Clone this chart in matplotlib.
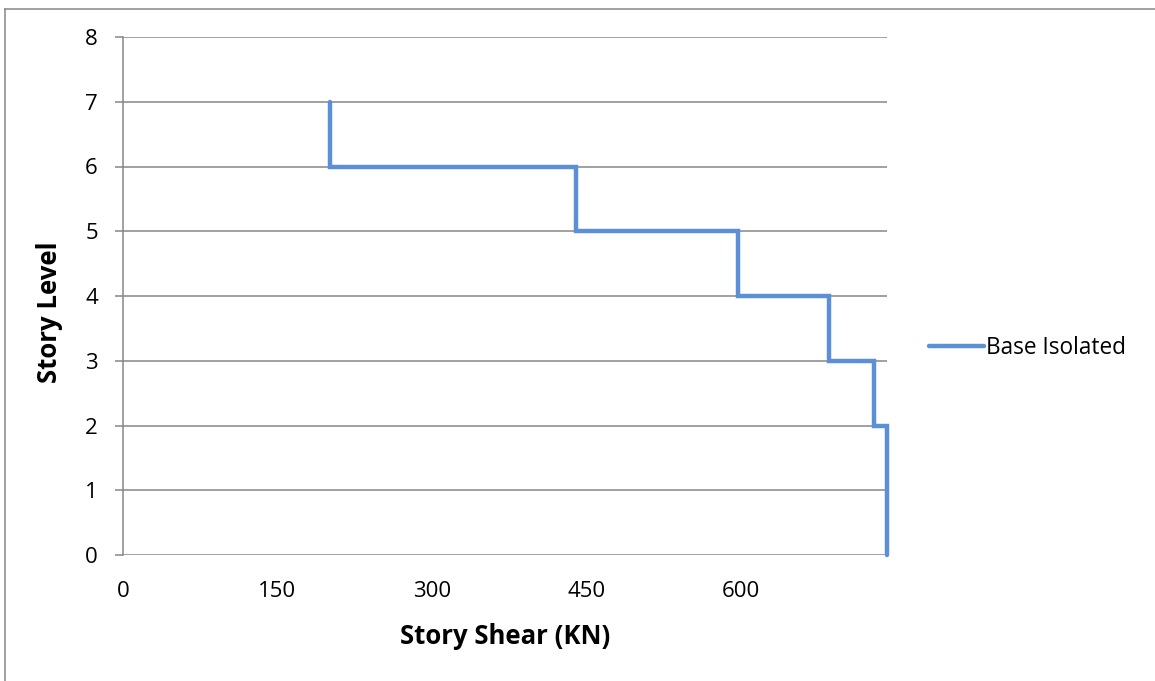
import matplotlib
matplotlib.use("Agg")
import matplotlib.pyplot as plt
from matplotlib.lines import Line2D

# Story shear profile (step line, one horizontal run per story)
story_shear = [742, 742, 729, 729, 686, 686, 597, 597, 440, 440, 201, 201]
story_level = [0, 2, 2, 3, 3, 4, 4, 5, 5, 6, 6, 7]
x_ticks = [0, 150, 300, 450, 600]
y_ticks = [0, 1, 2, 3, 4, 5, 6, 7, 8]
series_name = "Base Isolated"

FONT = ["Open Sans", "DejaVu Sans"]
GRID = "#868686"
BLUE = "#5B8FD6"

W, H = 1155, 681
fig = plt.figure(figsize=(W / 100, H / 100), dpi=100)
fig.patch.set_facecolor("white")

ax = fig.add_axes([123 / W, 1 - 555 / H, (887 - 123) / W, (555 - 37) / H])
ax.set_xlim(0, max(story_shear))
ax.set_ylim(0, 8)

ax.plot(story_shear, story_level, color=BLUE, lw=3.2, solid_capstyle="round",
        solid_joinstyle="miter", clip_on=False, zorder=3, label=series_name)

ax.set_xticks(x_ticks)
ax.set_yticks(y_ticks)
ax.grid(axis="y", color=GRID, lw=1.1)
ax.set_axisbelow(True)
for s in ["top", "right", "bottom"]:
    ax.spines[s].set_visible(False)
ax.spines["left"].set_color(GRID)
ax.spines["left"].set_linewidth(1.1)

ax.tick_params(axis="x", length=0, pad=19, labelsize=16)
ax.tick_params(axis="y", length=6, width=1.1, color=GRID, pad=12, labelsize=16)
for lab in ax.get_xticklabels() + ax.get_yticklabels():
    lab.set_family(FONT)
    lab.set_color("black")

ax.set_xlabel("Story Shear (KN)", fontsize=18.5, fontweight="bold", family=FONT)
ax.set_ylabel("Story Level", fontsize=18.5, fontweight="bold", family=FONT)
ax.xaxis.set_label_coords((505 - 123) / (887 - 123), -(636 - 555) / (555 - 37))
ax.yaxis.set_label_coords(-(123 - 50) / (887 - 123), (555 - 312) / (555 - 37))
ax.xaxis.label.set_va("center")
ax.yaxis.label.set_va("center")

leg = fig.legend(handles=[Line2D([0], [0], color=BLUE, lw=3.2, solid_capstyle="round")],
                 labels=[series_name], loc="center left",
                 bbox_to_anchor=(909 / W, 1 - 348 / H), frameon=False,
                 handlelength=2.4, handletextpad=0.1,
                 prop={"family": FONT, "size": 16.3})

# Outer chart frame (top and left edges)
fig.add_artist(Line2D([4.5 / W, 4.5 / W], [0, 1 - 8.5 / H], transform=fig.transFigure,
                      color=GRID, lw=1.1))
fig.add_artist(Line2D([4.5 / W, 1], [1 - 8.5 / H, 1 - 8.5 / H], transform=fig.transFigure,
                      color=GRID, lw=1.1))

fig.savefig("out.png", dpi=100, facecolor="white")
